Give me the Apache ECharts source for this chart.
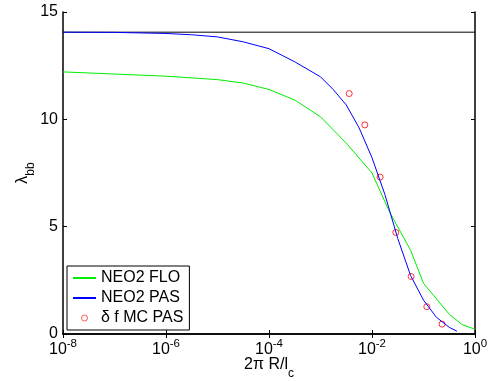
<!DOCTYPE html>
<html>
<head>
<meta charset="utf-8">
<script src="https://cdn.jsdelivr.net/npm/echarts@6/dist/echarts.min.js"></script>
<style>
  html, body { margin: 0; padding: 0; background: #fff; }
  #chart { width: 488px; height: 381px; }
</style>
</head>
<body>
<div id="chart"></div>
<script>
// lambda_bb against 2*pi*R/l_c (x as powers of ten)
const FONT = "'Liberation Sans', Arial, Helvetica, sans-serif";

const floExp = [-8, -7, -6, -5, -4.5, -4, -3.5, -3, -2.5, -2, -1.65, -1.25, -1, -0.5, -0.25, 0];
const floY = [12.21, 12.11, 12.01, 11.85, 11.69, 11.39, 10.9, 10.12, 8.89, 7.5, 5.64, 3.9, 2.36, 0.92, 0.44, 0.22];

const pasExp = [-8, -7, -6, -5.5, -5, -4.5, -4, -3.5, -3, -2.75, -2.5, -2.25, -2, -1.75, -1.5, -1.25, -1, -0.75, -0.5, -0.35];
const pasY = [14.06, 14.05, 14.0, 13.94, 13.84, 13.61, 13.29, 12.68, 11.98, 11.38, 10.67, 9.6, 8.21, 6.5, 4.45, 2.72, 1.58, 0.78, 0.31, 0.13];

const mcX = [0.00361, 0.00726, 0.0144, 0.029, 0.0574, 0.116, 0.229];
const mcY = [11.2, 9.74, 7.31, 4.73, 2.68, 1.27, 0.46];

const refExp = [-8, 0];
const refY = [14.06, 14.06];

const legendNames = ["NEO2 FLO", "NEO2 PAS", "\u03b4 f MC PAS"];

const pairs = (xs, ys) => xs.map((e, i) => [Math.pow(10, e), ys[i]]);

const ch = echarts.init(document.getElementById("chart"));

const xBase = {
  type: "log",
  logBase: 10,
  min: 1e-8,
  max: 1,
  interval: 2,
  splitLine: { show: false },
  axisLine: { lineStyle: { color: "#000", width: 1.5 } },
  axisTick: { inside: true, length: 4, lineStyle: { color: "#000" } },
};
const yBase = {
  type: "value",
  min: 0,
  max: 15,
  interval: 5,
  splitLine: { show: false },
  axisLine: { show: true, lineStyle: { color: "#000", width: 1.5 } },
  axisTick: { show: true, inside: true, length: 4, lineStyle: { color: "#000" } },
};

// line items in the legend: no marker, only the stroke
const noMarker = { color: "rgba(0,0,0,0)", borderWidth: 0, opacity: 0 };

ch.setOption({
  animation: false,
  backgroundColor: "#fff",
  textStyle: { fontFamily: FONT },
  grid: { left: 63, right: 13, top: 12, bottom: 47, outerBoundsMode: "none", containLabel: false },
  xAxis: [
    Object.assign({}, xBase, {
      position: "bottom",
      name: "{a|2\u03c0 R/l}{sub|c}",
      nameLocation: "middle",
      nameGap: 23,
      nameMoveOverlap: false,
      nameTextStyle: {
        rich: {
          a: { fontFamily: FONT, fontSize: 16, color: "#000", lineHeight: 18, verticalAlign: "top" },
          sub: { fontFamily: FONT, fontSize: 12, color: "#000", padding: [11, 0, 0, 0], verticalAlign: "bottom" },
        },
      },
      axisLabel: {
        margin: 4,
        formatter: (v) => "{a|10}{sup|" + Math.round(Math.log10(v)) + "}",
        rich: {
          a: { fontFamily: FONT, fontSize: 16, color: "#000", lineHeight: 20, verticalAlign: "bottom" },
          sup: { fontFamily: FONT, fontSize: 11.5, color: "#000", lineHeight: 11, verticalAlign: "top" },
        },
      },
    }),
    Object.assign({}, xBase, { position: "top", axisLabel: { show: false } }),
  ],
  yAxis: [
    Object.assign({}, yBase, {
      position: "left",
      name: "{a|\u03bb}{sub|bb}",
      nameLocation: "middle",
      nameGap: 26,
      nameMoveOverlap: false,
      nameTextStyle: {
        rich: {
          a: { fontFamily: FONT, fontSize: 16, color: "#000", lineHeight: 18, verticalAlign: "top" },
          sub: { fontFamily: FONT, fontSize: 12, color: "#000", padding: [10, 0, 0, 0], verticalAlign: "bottom" },
        },
      },
      axisLabel: { margin: 5, fontSize: 16, color: "#000", fontFamily: FONT },
    }),
    Object.assign({}, yBase, { position: "right", axisLabel: { show: false } }),
  ],
  legend: {
    data: [
      { name: legendNames[0], itemStyle: noMarker },
      { name: legendNames[1], itemStyle: noMarker },
      { name: legendNames[2], itemStyle: { borderWidth: 0.8 } },
    ],
    orient: "vertical",
    left: 67,
    top: 266,
    padding: [3, 6, 3, 5],
    itemWidth: 23,
    itemHeight: 6,
    itemGap: 2,
    backgroundColor: "#fff",
    borderColor: "#000",
    borderWidth: 1,
    borderRadius: 0,
    textStyle: { fontFamily: FONT, fontSize: 16, color: "#000", lineHeight: 18 },
  },
  series: [
    {
      name: "ref",
      type: "line",
      data: pairs(refExp, refY),
      symbol: "none",
      silent: true,
      lineStyle: { color: "#000", width: 1 },
    },
    {
      name: legendNames[0],
      type: "line",
      data: pairs(floExp, floY),
      symbol: "none",
      color: "#00ee00",
      lineStyle: { color: "#00ee00", width: 1 },
    },
    {
      name: legendNames[1],
      type: "line",
      data: pairs(pasExp, pasY),
      symbol: "none",
      color: "#0000ff",
      lineStyle: { color: "#0000ff", width: 1 },
    },
    {
      name: legendNames[2],
      type: "scatter",
      data: mcX.map((x, i) => [x, mcY[i]]),
      symbol: "circle",
      symbolSize: 6,
      itemStyle: { color: "rgba(0,0,0,0)", borderColor: "#ff0000", borderWidth: 1 },
    },
  ],
});
</script>
</body>
</html>
